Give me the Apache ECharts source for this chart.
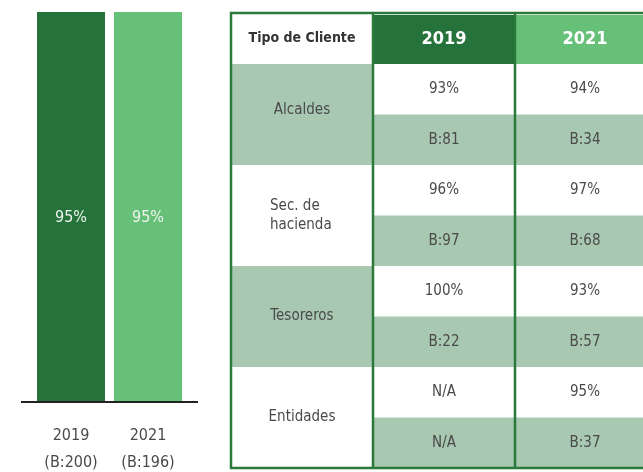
<!DOCTYPE html>
<html>
<head>
<meta charset="utf-8">
<script src="https://cdn.jsdelivr.net/npm/echarts@6/dist/echarts.min.js"></script>
<style>
  html, body { margin: 0; padding: 0; background: #fff; }
  #main { width: 643px; height: 472px; }
</style>
</head>
<body>
<div id="main"></div>
<script>
'use strict'
// datos de las barras
var years = ['2019', '2021']
var bases = [200, 196]
var barValues = [95, 95]

// datos de la tabla
var clientes = ['Alcaldes', 'Sec. de\nhacienda', 'Tesoreros', 'Entidades']
var pct2019 = ['93%', '96%', '100%', 'N/A']
var base2019 = ['B:81', 'B:97', 'B:22', 'N/A']
var pct2021 = ['94%', '97%', '93%', '95%']
var base2021 = ['B:34', 'B:68', 'B:57', 'B:37']

var FONT = '"Liberation Sans Narrow", "DejaVu Sans Condensed", sans-serif'
var DARK = '#25723a'
var LIGHT = '#67c078'
var PALE = '#a8c8b1'
var BORDER = '#2b7a3b'
var TXT = '#4a4a4a'

var chart = echarts.init(document.getElementById('main'), null, { renderer: 'canvas' })

// geometria de la tabla
var x0 = 231, c1 = 373, c2 = 515, x3 = 658
var tTop = 13, headBottom = 64, blockH = 101, subH = 50.5

var g = []
function rect(x, y, w, h, fill, z) {
  g.push({ type: 'rect', z: z || 1, shape: { x: x, y: y, width: w, height: h }, style: { fill: fill } })
}
function txt(x, y, s, opt) {
  opt = opt || {}
  g.push({
    type: 'text', z: 10, x: x, y: y,
    style: {
      text: s, fill: opt.fill || TXT, font: (opt.weight || 'normal') + ' ' + (opt.size || 15) + 'px ' + FONT,
      align: opt.align || 'center', verticalAlign: 'middle', lineHeight: opt.lh || 19
    }
  })
}

// cabecera
rect(x0, tTop, c1 - x0, headBottom - tTop, '#ffffff')
rect(c1, tTop + 2, c2 - c1, headBottom - tTop - 2, DARK)
rect(c2, tTop + 2, x3 - c2, headBottom - tTop - 2, LIGHT)
txt((x0 + c1) / 2, 38, 'Tipo de Cliente', { weight: 'bold', size: 14, fill: '#333' })
txt((c1 + c2) / 2, 39, years[0], { weight: 'bold', size: 18, fill: '#fff' })
txt(585, 39, years[1], { weight: 'bold', size: 18, fill: '#fff' })

clientes.forEach(function(c, i) {
  var y = headBottom + i * blockH
  rect(x0, y, c1 - x0, blockH, i % 2 === 0 ? PALE : '#ffffff')
  rect(c1, y, x3 - c1, subH, '#ffffff')
  rect(c1, y + subH, x3 - c1, blockH - subH, PALE)
  if (c.indexOf('\n') >= 0) {
    txt(270, y + blockH / 2, c, { align: 'left' })
  } else {
    txt((x0 + c1) / 2, y + blockH / 2 - (i === 0 ? 4 : 0), c)
  }
  txt((c1 + c2) / 2, y + subH / 2, pct2019[i])
  txt((c1 + c2) / 2, y + subH + subH / 2, base2019[i])
  txt(585, y + subH / 2, pct2021[i])
  txt(585, y + subH + subH / 2, base2021[i])
})

var tBottom = headBottom + clientes.length * blockH
// lineas verticales y borde
;[c1, c2].forEach(function(x) {
  g.push({ type: 'line', z: 5, shape: { x1: x, y1: tTop, x2: x, y2: tBottom }, style: { stroke: BORDER, lineWidth: 2.5 } })
})
g.push({ type: 'rect', z: 6, shape: { x: x0, y: tTop, width: x3 - x0, height: tBottom - tTop }, style: { fill: 'none', stroke: BORDER, lineWidth: 2.5 } })

// linea base de las barras
g.push({ type: 'line', z: 5, shape: { x1: 21, y1: 402, x2: 198, y2: 402 }, style: { stroke: '#222', lineWidth: 2 } })

var option = {
  animation: false,
  grid: { left: 32.5, width: 154, top: 12, bottom: 70, containLabel: false, outerBoundsMode: 'none' },
  xAxis: {
    type: 'category',
    data: years.map(function(y, i) { return y + '\n(B:' + bases[i] + ')' }),
    axisLine: { show: false },
    axisTick: { show: false },
    axisLabel: { color: TXT, fontSize: 16, fontFamily: FONT, lineHeight: 27, margin: 20 }
  },
  yAxis: { type: 'value', min: 0, max: 95, show: false },
  series: [{
    type: 'bar',
    barWidth: 68,
    data: barValues.map(function(v, i) {
      return { value: v, itemStyle: { color: i === 0 ? DARK : LIGHT } }
    }),
    label: {
      show: true, position: 'inside', offset: [0, 11],
      formatter: '{c}%', color: '#eef5ee', fontSize: 16, fontFamily: FONT
    }
  }],
  graphic: g
}
chart.setOption(option)
</script>
</body>
</html>
